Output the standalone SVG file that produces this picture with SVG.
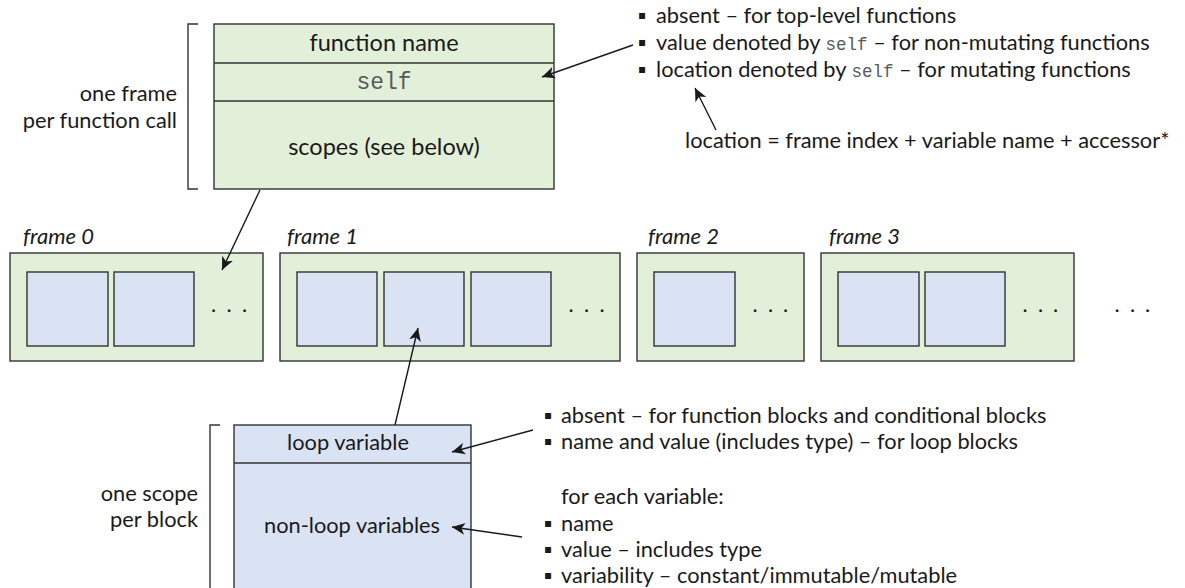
<svg xmlns="http://www.w3.org/2000/svg" width="1185" height="588" viewBox="0 0 1185 588">
<style>
text{font-family:Lato,"Open Sans","DejaVu Sans",sans-serif;font-size:21.8px;fill:#1a1a1a}
.c{text-anchor:middle}
.r{text-anchor:end}
.big{font-size:23.5px}
.it{font-style:italic;font-size:22px}
.mono{font-family:"Liberation Mono","DejaVu Sans Mono",monospace;fill:#5a5a5a;font-size:17.5px}
.mono.big{font-size:23px}
.bul{font-family:"DejaVu Sans",sans-serif;font-size:12px}
.g{fill:#e2efd9;stroke:#333;stroke-width:1.4}
.b{fill:#dae3f3;stroke:#333;stroke-width:1.4}
.br{fill:none;stroke:#333;stroke-width:1.4}
.ln{fill:none;stroke:#1a1a1a;stroke-width:1.4;marker-end:url(#ah)}
</style>
<defs>
<marker id="ah" markerUnits="userSpaceOnUse" markerWidth="14" markerHeight="12" refX="13" refY="6" orient="auto">
<path d="M0,0 L13,6 L0,12 L3.5,6 z" fill="#1a1a1a"/>
</marker>
</defs>
<rect width="1185" height="588" fill="#fff"/>

<g id="frame-detail">
<rect class="g" x="214" y="24" width="340" height="165"/>
<line class="br" x1="214" y1="63" x2="554" y2="63"/>
<line class="br" x1="214" y1="101" x2="554" y2="101"/>
<text class="c big" x="384" y="51">function name</text>
<text class="c mono big" x="384" y="89">self</text>
<text class="c big" x="384" y="155">scopes (see below)</text>
</g>

<g id="frame-bracket">
<path class="br" d="M198,24 H188 V189 H198"/>
<text class="r" x="177" y="101">one frame</text>
<text class="r" x="177" y="128">per function call</text>
</g>

<g id="self-notes">
<text><tspan class="bul" x="638" y="19">▪</tspan><tspan x="656" y="23">absent – for top-level functions</tspan></text>
<text><tspan class="bul" x="638" y="46">▪</tspan><tspan x="656" y="50">value denoted by </tspan><tspan class="mono">self</tspan><tspan> – for non-mutating functions</tspan></text>
<text><tspan class="bul" x="638" y="73">▪</tspan><tspan x="656" y="77">location denoted by </tspan><tspan class="mono">self</tspan><tspan> – for mutating functions</tspan></text>
<text x="685" y="148">location = frame index + variable name + accessor*</text>
</g>

<g id="frame0">
<text class="it" x="23" y="244">frame 0</text>
<rect class="g" x="10" y="253" width="253" height="108"/>
<rect class="b" x="27" y="272" width="81" height="74"/>
<rect class="b" x="114" y="272" width="80" height="74"/>
<text x="211 226.5 242" y="312">...</text>
</g>

<g id="frame1">
<text class="it" x="287" y="244">frame 1</text>
<rect class="g" x="280" y="253" width="340" height="108"/>
<rect class="b" x="297" y="272" width="80" height="74"/>
<rect class="b" x="384" y="272" width="80" height="74"/>
<rect class="b" x="471" y="272" width="80" height="74"/>
<text x="568.5 584 599.5" y="312">...</text>
</g>

<g id="frame2">
<text class="it" x="648" y="244">frame 2</text>
<rect class="g" x="637" y="253" width="167" height="108"/>
<rect class="b" x="654" y="272" width="81" height="74"/>
<text x="752.5 768 783" y="312">...</text>
</g>

<g id="frame3">
<text class="it" x="829" y="244">frame 3</text>
<rect class="g" x="821" y="253" width="253" height="108"/>
<rect class="b" x="838" y="272" width="81" height="74"/>
<rect class="b" x="925" y="272" width="80" height="74"/>
<text x="1022.5 1038 1053" y="312">...</text>
</g>

<g id="more-frames">
<text x="1114.5 1130 1145" y="312">...</text>
</g>

<g id="scope-detail">
<rect class="b" x="234" y="425" width="237" height="180"/>
<line class="br" x1="234" y1="463" x2="471" y2="463"/>
<text class="c" x="348" y="450">loop variable</text>
<text class="c" x="352" y="533">non-loop variables</text>
</g>

<g id="scope-bracket">
<path class="br" d="M220,425 H210 V600"/>
<text class="r" x="198" y="501">one scope</text>
<text class="r" x="198" y="527">per block</text>
</g>

<g id="scope-notes">
<text><tspan class="bul" x="544" y="419">▪</tspan><tspan x="561" y="423">absent – for function blocks and conditional blocks</tspan></text>
<text><tspan class="bul" x="544" y="445">▪</tspan><tspan x="561" y="449">name and value (includes type) – for loop blocks</tspan></text>
<text x="561" y="504">for each variable:</text>
<text><tspan class="bul" x="544" y="527">▪</tspan><tspan x="561" y="531">name</tspan></text>
<text><tspan class="bul" x="544" y="553">▪</tspan><tspan x="561" y="557">value – includes type</tspan></text>
<text><tspan class="bul" x="544" y="579">▪</tspan><tspan x="561" y="583">variability – constant/immutable/mutable</tspan></text>
</g>

<g id="connectors">
<line class="ln" x1="633" y1="45" x2="542" y2="77"/>
<line class="ln" x1="716" y1="130" x2="695" y2="88"/>
<line class="ln" x1="260" y1="190" x2="222" y2="270"/>
<line class="ln" x1="395" y1="425" x2="418" y2="328"/>
<line class="ln" x1="533" y1="430" x2="452" y2="452"/>
<line class="ln" x1="522" y1="537" x2="452" y2="527"/>
</g>
</svg>
